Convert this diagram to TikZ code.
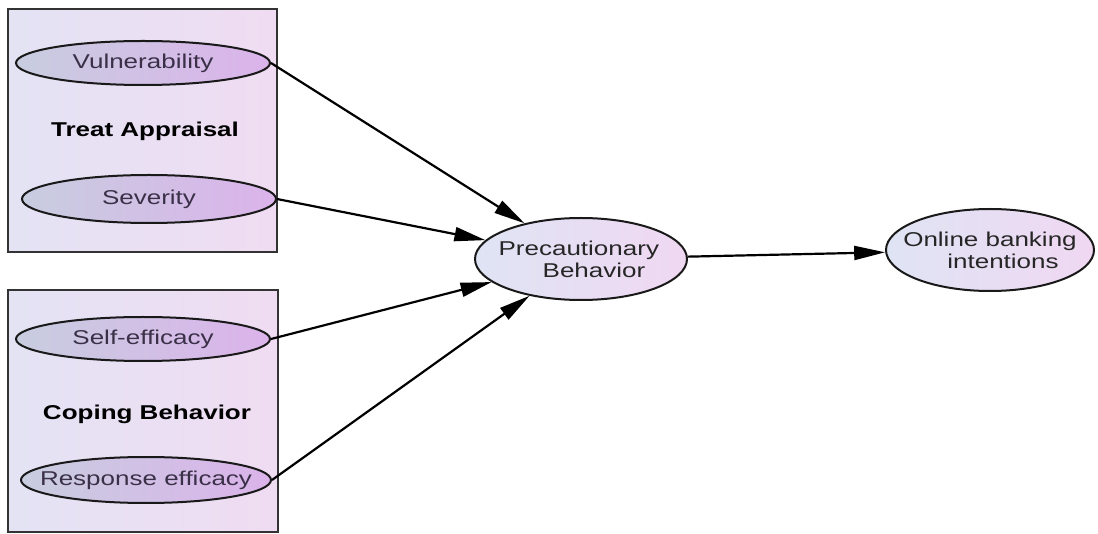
\documentclass[tikz,border=0pt]{standalone}
\usepackage{fontspec}
\setmainfont{Liberation Sans}
\usetikzlibrary{shapes.geometric,arrows.meta}
\definecolor{boxleft}{HTML}{E3E3F4}
\definecolor{boxright}{HTML}{F0DCF2}
\definecolor{ellleft}{HTML}{C8CDE0}
\definecolor{ellright}{HTML}{DBB3EA}
\definecolor{bigleft}{HTML}{DFE4F4}
\definecolor{bigright}{HTML}{F0D8F2}
\definecolor{labeltext}{HTML}{3A3048}
% horizontally widened text of zero width
\newcommand{\wtxt}[1]{\makebox[0pt]{\scalebox{1.3}[1]{#1}}}
\begin{document}
\begin{tikzpicture}[x=1pt,y=-1pt]
  \tikzset{
    groupbox/.style={draw=black!80, line width=2pt, left color=boxleft, right color=boxright},
    factor/.style={ellipse, draw=black!90, line width=2pt, inner sep=0pt, left color=ellleft, right color=ellright,
      text=labeltext, font=\fontsize{20}{22}\selectfont, minimum width=254pt, minimum height=44pt},
    outcome/.style={factor, left color=bigleft, right color=bigright, text=black!85, align=center},
    title/.style={font=\bfseries\fontsize{20}{22}\selectfont},
    link/.style={line width=2.2pt, -{Triangle[length=31pt,width=14pt]}}
  }
  \useasboundingbox (0,0) rectangle (1098,534);

  % the two groups
  \draw [groupbox] (8,9) rectangle (277,252);
  \draw [groupbox] (8,290) rectangle (278,532);

  \node [title] (threat) at (145,131) {\wtxt{Treat Appraisal}};
  \node [title] (coping) at (147,414) {\wtxt{Coping Behavior}};

  \node [factor] (vul) at (143,63) {\wtxt{Vulnerability}};
  \node [factor, minimum height=48pt] (sev) at (149,199) {\wtxt{Severity}};
  \node [factor] (self) at (143,339) {\wtxt{Self-efficacy}};
  \node [factor, minimum width=250pt, minimum height=46pt] (resp) at (146,480) {\wtxt{Response efficacy}};

  \node [outcome, minimum width=212pt, minimum height=82pt] (prec) at (581,259) {\wtxt{Precautionary\,}\\\wtxt{\quad Behavior}};
  \node [outcome, minimum width=208pt, minimum height=82pt] (bank) at (990,250) {\wtxt{Online banking}\\\wtxt{\quad intentions}};

  \foreach \src in {vul,sev,self,resp} {
    \draw [link] (\src.east) -- (prec);
  }
  \draw [link] (prec) -- (bank);
\end{tikzpicture}
\end{document}
